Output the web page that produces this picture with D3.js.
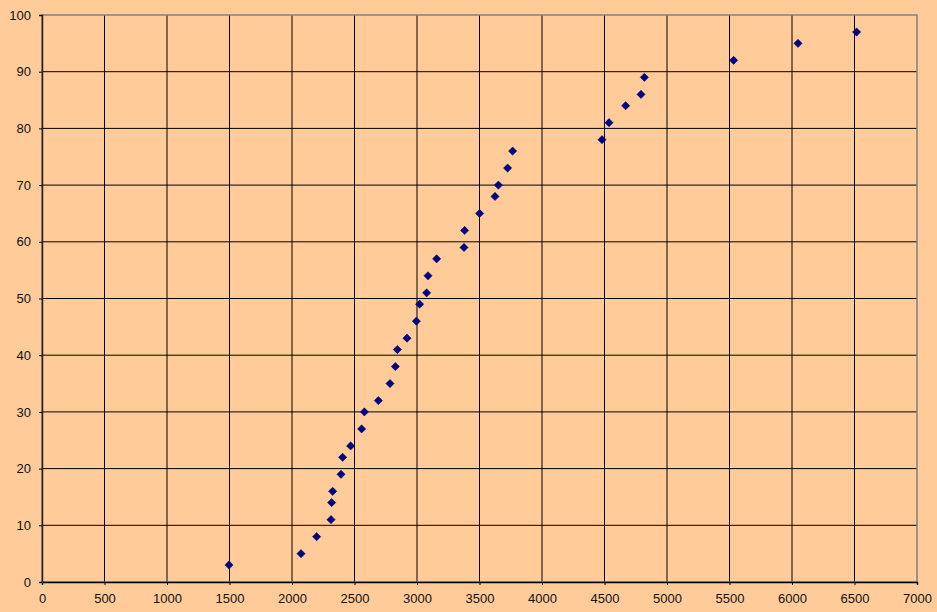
<!DOCTYPE html>
<html>
<head>
<meta charset="utf-8">
<script src="https://cdn.jsdelivr.net/npm/d3@7"></script>
<style>
  html, body { margin: 0; padding: 0; background: #FFCC99; }
  svg { display: block; }
  text { font-family: "Liberation Sans", Arial, sans-serif; font-size: 13px; fill: #111; }
</style>
</head>
<body>
<script>
// Data
const xValues = [1496, 2072, 2197, 2312, 2317, 2325, 2392, 2405, 2469, 2557, 2579, 2691,
  2784, 2827, 2843, 2920, 2995, 3021, 3077, 3088, 3157, 3376, 3381, 3501, 3624, 3651,
  3725, 3765, 4480, 4536, 4669, 4792, 4819, 5533, 6048, 6517];
const yValues = [3, 5, 8, 11, 14, 16, 19, 22, 24, 27, 30, 32, 35, 38, 41, 43, 46, 49, 51,
  54, 57, 59, 62, 65, 68, 70, 73, 76, 78, 81, 84, 86, 89, 92, 95, 97];
const xTicks = [0, 500, 1000, 1500, 2000, 2500, 3000, 3500, 4000, 4500, 5000, 5500, 6000, 6500, 7000];
const yTicks = [0, 10, 20, 30, 40, 50, 60, 70, 80, 90, 100];

const W = 937, H = 612;
const margin = { left: 42, right: 20, top: 15, bottom: 30 };

const svg = d3.select("body").append("svg").attr("width", W).attr("height", H);
svg.append("rect").attr("width", W).attr("height", H).attr("fill", "#FFCC99");

const x = d3.scaleLinear().domain([0, 7000]).range([margin.left, W - margin.right]);
const y = d3.scaleLinear().domain([0, 100]).range([H - margin.bottom, margin.top]);

// Gridlines
svg.append("g").selectAll("line").data(xTicks.slice(1, -1)).join("line")
  .attr("x1", d => x(d)).attr("x2", d => x(d))
  .attr("y1", y(0)).attr("y2", y(100))
  .attr("stroke", "#000").attr("stroke-width", 1);
svg.append("g").selectAll("line").data(yTicks.slice(1, -1)).join("line")
  .attr("x1", x(0)).attr("x2", x(7000))
  .attr("y1", d => y(d)).attr("y2", d => y(d))
  .attr("stroke", "#000").attr("stroke-width", 1);

// Plot border (top/right gray)
svg.append("rect")
  .attr("x", x(0)).attr("y", y(100))
  .attr("width", x(7000) - x(0)).attr("height", y(0) - y(100))
  .attr("fill", "none").attr("stroke", "#808080").attr("stroke-width", 1.5);

// Axes
const xAxis = d3.axisBottom(x).tickValues(xTicks).tickSize(3).tickPadding(9).tickFormat(d3.format("d"));
const gx = svg.append("g").attr("transform", `translate(0,${y(0)})`).call(xAxis);
gx.select(".domain").attr("stroke", "#000").attr("stroke-width", 1.5);
gx.selectAll(".tick line").attr("stroke", "#000");
gx.selectAll("text").style("font-size", "13px").attr("fill", "#111");

const yAxis = d3.axisLeft(y).tickValues(yTicks).tickSize(3).tickPadding(8).tickFormat(d3.format("d"));
const gy = svg.append("g").attr("transform", `translate(${x(0)},0)`).call(yAxis);
gy.select(".domain").attr("stroke", "#222").attr("stroke-width", 1.5);
gy.selectAll(".tick line").attr("stroke", "#000");
gy.selectAll("text").style("font-size", "13px").attr("fill", "#111");

// Points
const pts = xValues.map((v, i) => ({ x: v, y: yValues[i] }));
const sym = d3.symbol().type(d3.symbolSquare).size(34);
svg.append("g").selectAll("path").data(pts).join("path")
  .attr("d", sym)
  .attr("transform", d => `translate(${x(d.x)},${y(d.y)}) rotate(45)`)
  .attr("fill", "#000080").attr("stroke", "#000080").attr("stroke-width", 0.5);
</script>
</body>
</html>
